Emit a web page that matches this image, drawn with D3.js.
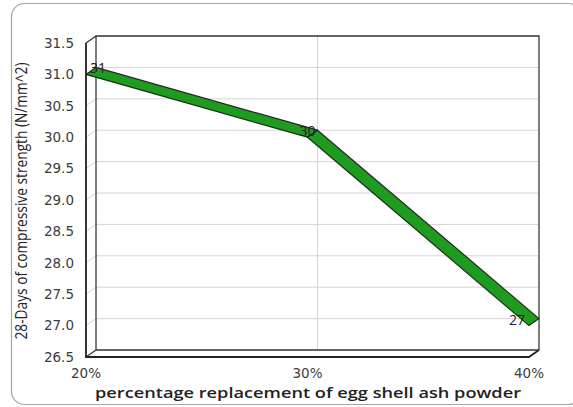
<!doctype html>
<html lang="en">
<head>
  <meta charset="UTF-8">
  <title>Compressive strength</title>
  <script src="https://d3js.org/d3.v7.min.js"></script>
  <style>
    body { margin: 0; background: #fff; }
  </style>
</head>
<body>
  <div id="myDiv"></div>
  <script type="text/javascript">
    // chart data
    var categories = ["20%", "30%", "40%"];
    var strength = [31, 30, 27];
    var yTicks = [26.5, 27.0, 27.5, 28.0, 28.5, 29.0, 29.5, 30.0, 30.5, 31.0, 31.5];

    var W = 573, H = 407;
    // depth offset of the pseudo 3d box
    var dx = 10, dy = -7;

    var svg = d3.select("#myDiv").append("svg")
      .attr("width", W)
      .attr("height", H);

    // outer rounded frame
    svg.append("rect")
      .attr("x", 11.5).attr("y", 3.5)
      .attr("width", 570).attr("height", 401)
      .attr("rx", 13)
      .attr("fill", "none")
      .attr("stroke", "#a6a6a6")
      .attr("stroke-width", 1.2);

    var xScale = d3.scalePoint()
      .domain(categories)
      .range([86, 529]);

    var yScale = d3.scaleLinear()
      .domain([26.5, 31.5])
      .range([357, 43]);

    var x0 = xScale.range()[0], x1 = xScale.range()[1];
    var yTop = yScale(31.5), yBot = yScale(26.5);

    // gridlines on back wall and left side wall
    var grid = svg.append("g").attr("stroke", "#d4d4d4").attr("stroke-width", 1);
    yTicks.forEach(function(t) {
      var y = yScale(t);
      grid.append("line")
        .attr("x1", x0 + dx).attr("x2", x1 + dx)
        .attr("y1", y + dy).attr("y2", y + dy);
      grid.append("line")
        .attr("x1", x0).attr("x2", x0 + dx)
        .attr("y1", y).attr("y2", y + dy);
    });
    categories.slice(1, -1).forEach(function(c) {
      var x = xScale(c) + dx;
      grid.append("line")
        .attr("x1", x).attr("x2", x)
        .attr("y1", yTop + dy).attr("y2", yBot + dy);
    });

    // box edges
    var edges = svg.append("g").attr("stroke", "#3a3a3a").attr("stroke-width", 1.3).attr("fill", "none");
    edges.append("path").attr("d",
      "M" + (x0 + dx) + "," + (yBot + dy) +
      "V" + (yTop + dy) + "H" + (x1 + dx) + "V" + (yBot + dy));
    edges.append("path").attr("d",
      "M" + x0 + "," + yTop + "L" + (x0 + dx) + "," + (yTop + dy));
    edges.append("path").attr("d",
      "M" + (x0 + dx) + "," + (yBot + dy) + "H" + (x1 + dx) +
      "M" + x0 + "," + yBot + "L" + (x0 + dx) + "," + (yBot + dy));
    edges.append("path").attr("d",
      "M" + x0 + "," + yTop + "V" + yBot + "H" + x1 + "L" + (x1 + dx) + "," + (yBot + dy))
      .attr("stroke-width", 1.8).attr("stroke", "#222");

    // y tick labels
    svg.append("g").selectAll("text")
      .data(yTicks)
      .enter().append("text")
        .attr("x", 74)
        .attr("y", function(d) { return yScale(d); })
        .attr("dy", "0.36em")
        .attr("text-anchor", "end")
        .attr("font-family", "DejaVu Sans, Verdana, sans-serif")
        .attr("font-size", 13.5)
        .attr("fill", "#3c3c3c")
        .text(function(d) { return d.toFixed(1); });

    // x tick labels
    svg.append("g").selectAll("text")
      .data(categories)
      .enter().append("text")
        .attr("x", function(d) { return xScale(d); })
        .attr("y", 378)
        .attr("text-anchor", "middle")
        .attr("font-family", "DejaVu Sans, Verdana, sans-serif")
        .attr("font-size", 13.5)
        .attr("fill", "#3c3c3c")
        .text(function(d) { return d; });

    // 3d ribbon line, one quad per segment
    var pts = categories.map(function(c, i) { return [xScale(c), yScale(strength[i])]; });
    var ribbon = svg.append("g");
    for (var i = 0; i < pts.length - 1; i++) {
      var a = pts[i], b = pts[i + 1];
      ribbon.append("path")
        .attr("d", "M" + a[0] + "," + a[1] +
          "L" + b[0] + "," + b[1] +
          "L" + (b[0] + dx) + "," + (b[1] + dy) +
          "L" + (a[0] + dx) + "," + (a[1] + dy) + "Z")
        .attr("fill", "#1f9c1f")
        .attr("stroke", "#1d2b1d")
        .attr("stroke-width", 1.2)
        .attr("stroke-linejoin", "round");
    }

    // data labels
    var anchors = ["start", "middle", "end"];
    var offs = [4, 0, -4];
    svg.append("g").selectAll("text")
      .data(strength)
      .enter().append("text")
        .attr("x", function(d, i) { return xScale(categories[i]) + offs[i]; })
        .attr("y", function(d) { return yScale(d) - 6; })
        .attr("dy", "0.36em")
        .attr("text-anchor", function(d, i) { return anchors[i]; })
        .attr("font-family", "Open Sans, sans-serif")
        .attr("font-size", 14)
        .attr("fill", "#222")
        .text(function(d) { return d; });

    // axis titles
    svg.append("text")
      .attr("transform", "translate(27,201) rotate(-90)")
      .attr("text-anchor", "middle")
      .attr("font-family", "Open Sans, sans-serif")
      .attr("font-size", 16)
      .attr("textLength", 277)
      .attr("lengthAdjust", "spacingAndGlyphs")
      .attr("fill", "#222")
      .text("28-Days of compressive strength (N/mm^2)");

    svg.append("text")
      .attr("x", 308)
      .attr("y", 398)
      .attr("text-anchor", "middle")
      .attr("font-family", "Open Sans, sans-serif")
      .attr("font-size", 14.5)
      .attr("font-weight", 600)
      .attr("textLength", 426)
      .attr("lengthAdjust", "spacingAndGlyphs")
      .attr("fill", "#222")
      .text("percentage replacement of egg shell ash powder");
  </script>
</body>
</html>
